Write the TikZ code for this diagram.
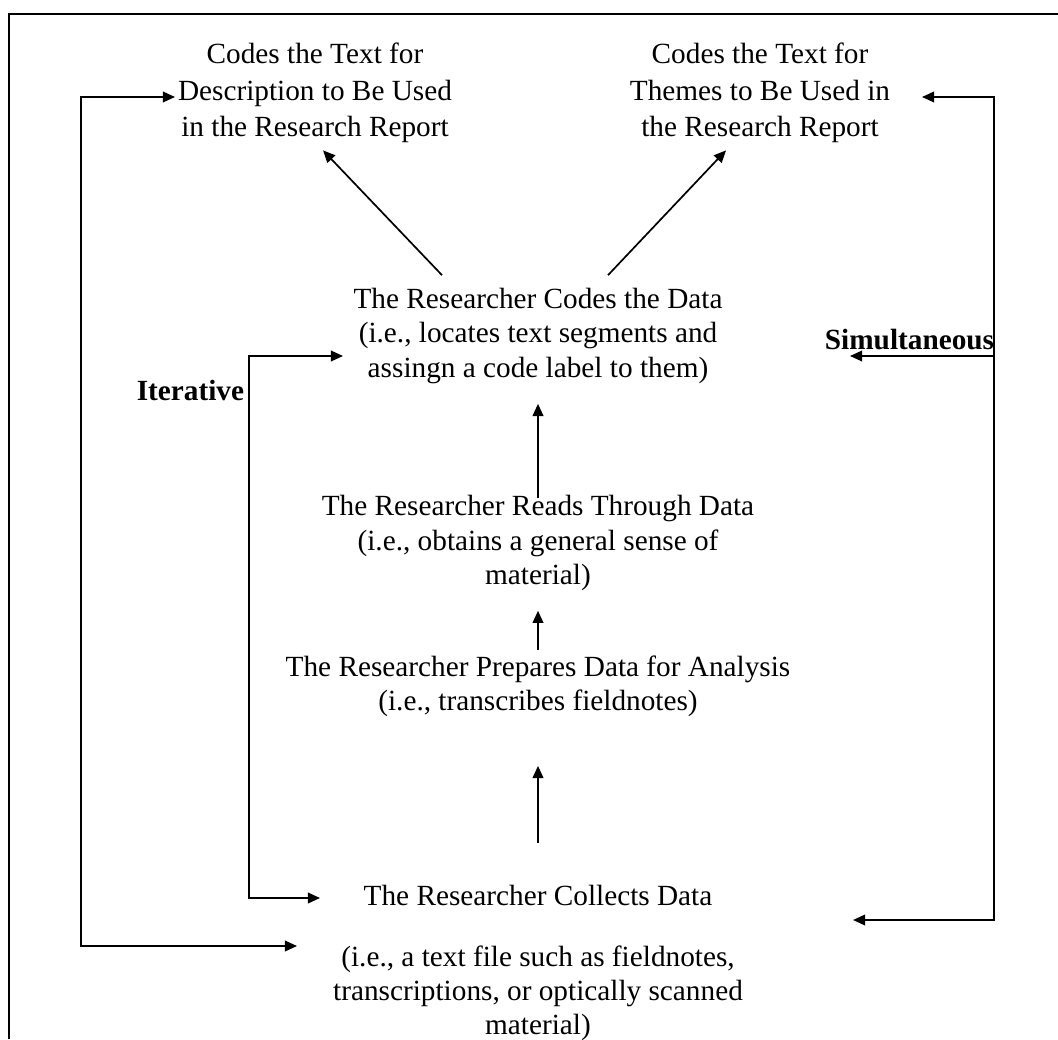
\documentclass[tikz,border=0pt]{standalone}
\usepackage{fontspec}
\setmainfont{Liberation Serif}
\usetikzlibrary{positioning,arrows.meta,calc}
\tikzset{
  txt/.style={align=center, inner sep=2pt, font=\fontsize{12}{14}\selectfont},
  toptxt/.style={txt, font=\fontsize{12}{15}\selectfont},
  tag/.style={inner sep=1pt, font=\fontsize{12}{14}\selectfont\bfseries},
  frame/.style={line width=0.8pt, black},
  flow/.style={-{Triangle[length=5pt, width=4.4pt]}, line width=0.7pt},
  twoway/.style={{Triangle[length=5pt, width=4.4pt]}-{Triangle[length=5pt, width=4.4pt]}, line width=0.7pt}
}

\begin{document}
\begin{tikzpicture}[x=0.41pt, y=-0.41pt]
  \useasboundingbox (0,0) rectangle (1058,1039);
  \draw[frame] (9,1039) -- (9,14) -- (1058,14);

  \node[toptxt] (desc) at (315,93) {Codes the Text for\\Description to Be Used\\in the Research Report};
  \node[toptxt] (themes) at (760,93) {Codes the Text for\\Themes to Be Used in\\the Research Report};
  \node[txt] (coding) at (538,336) {The Researcher Codes the Data\\(i.e., locates text segments and\\assingn a code label to them)};
  \node[txt] (reading) at (538,543) {The Researcher Reads Through Data\\(i.e., obtains a general sense of\\material)};
  \node[txt] (prep) at (538,686) {The Researcher Prepares Data for Analysis\\(i.e., transcribes fieldnotes)};
  \node[txt] (collect) at (538,963) {The Researcher Collects Data\\[11pt](i.e., a text file such as fieldnotes,\\transcriptions, or optically scanned\\material)};

  \node[tag, anchor=east] (iter) at (247,390) {Iterative};
  \node[tag, anchor=east] (simul) at (997,340) {Simultaneous};

  \draw[flow] ($(coding.north)+(-96,-8)$) -- ($(desc.south)+(8,2)$);
  \draw[flow] ($(coding.north)+(70,-8)$) -- ($(themes.south)+(-34,2)$);
  \draw[flow] ($(reading.north)+(0,8)$) -- ($(coding.south)+(0,15)$);
  \draw[flow] (prep.north) -- ($(reading.south)+(0,15)$);
  \draw[flow] ($(prep.south)+(0,121)$) -- ($(prep.south)+(0,44)$);

  \coordinate (outerA) at (175,97);
  \coordinate (outerB) at (297,946);
  \coordinate (iterA) at (343,356);
  \coordinate (iterB) at (320,898);
  \coordinate (simA) at (922,97);
  \coordinate (simB) at (853,920);
  \coordinate (simC) at (850,356);
  \coordinate (simJ) at (994,356);

  \draw[twoway] (outerA) -- ++(-94,0) |- (outerB);
  \draw[twoway] (iterA) -- ++(-94,0) |- (iterB);
  \draw[twoway] (simA) -- ++(72,0) |- (simB);
  \draw[flow] (simJ) -- (simC);
\end{tikzpicture}
\end{document}
